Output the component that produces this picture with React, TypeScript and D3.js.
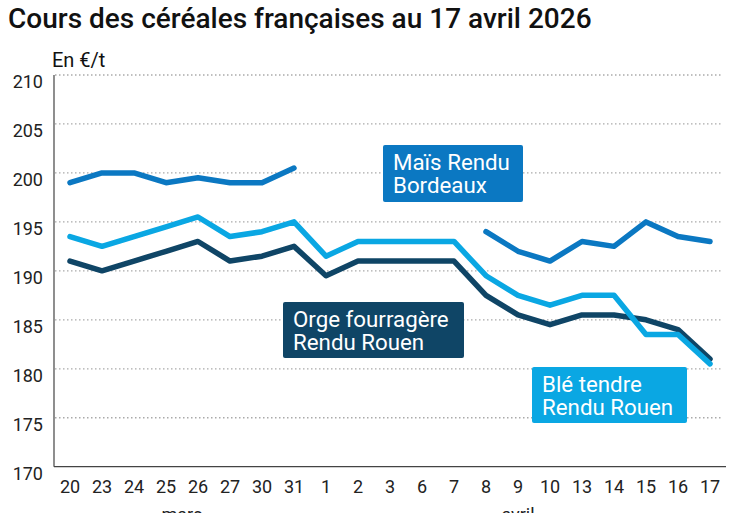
import React from "react";
import * as d3 from "d3";

const categories = ["20","23","24","25","26","27","30","31","1","2","3","6","7","8","9","10","13","14","15","16","17"];
const months = [
  { label: "mars", from: 0, to: 7 },
  { label: "avril", from: 8, to: 20 },
];
const mais: (number | null)[] = [199,200,200,199,199.5,199,199,200.5,null,null,null,null,null,194,192,191,193,192.5,195,193.5,193];
const ble: (number | null)[] = [193.5,192.5,193.5,194.5,195.5,193.5,194,195,191.5,193,193,193,193,189.5,187.5,186.5,187.5,187.5,183.5,183.5,180.5];
const orge: (number | null)[] = [191,190,191,192,193,191,191.5,192.5,189.5,191,191,191,191,187.5,185.5,184.5,185.5,185.5,185,184,181];
const yTicks = [170,175,180,185,190,195,200,205,210];

const W = 747, H = 513;
const left = 54, right = 726, top = 75, bottom = 466.7;
const FONT = "Roboto, 'Noto Sans', sans-serif";

export default function App() {
  const x = d3.scaleBand<string>().domain(categories).range([left, right]).padding(0);
  const y = d3.scaleLinear().domain([170, 210]).range([bottom, top]);
  const cx = (i: number) => (x(categories[i]) as number) + x.bandwidth() / 2;
  const line = d3
    .line<number | null>()
    .defined((d) => d !== null)
    .x((_, i) => cx(i))
    .y((d) => y(d as number));

  const series = [
    { data: orge, color: "#0f4566" },
    { data: ble, color: "#0aa7e3" },
    { data: mais, color: "#0b78c2" },
  ];

  const labels = [
    { lines: ["Maïs Rendu", "Bordeaux"], color: "#0b78c2", x: 383, y: 145, w: 140, h: 57 },
    { lines: ["Orge fourragère", "Rendu Rouen"], color: "#0f4566", x: 283, y: 302, w: 181, h: 56 },
    { lines: ["Blé tendre", "Rendu Rouen"], color: "#0aa7e3", x: 532, y: 367, w: 155, h: 56 },
  ];

  return (
    <svg width={W} height={H} style={{ position: "absolute", left: 0, top: 0, display: "block" }} fontFamily={FONT}>
      <rect width={W} height={H} fill="#fff" />
      <text x={8} y={28} fontSize={28} fontWeight={500} fill="#111">
        Cours des céréales françaises au 17 avril 2026
      </text>
      <text x={52} y={67} fontSize={20} fill="#111">En €/t</text>

      {yTicks.filter((t) => t !== 170).map((t) => (
        <line key={t} x1={left + 1} x2={723} y1={y(t)} y2={y(t)} stroke="#aaa" strokeWidth={1.3} strokeDasharray="1.5,2.5" />
      ))}
      {yTicks.map((t) => (
        <text key={"l" + t} x={43} y={y(t) + 13} fontSize={18} textAnchor="end" fill="#222">{t}</text>
      ))}

      <line x1={left} x2={left} y1={top} y2={bottom} stroke="#444" strokeWidth={1.2} />
      <line x1={left} x2={right} y1={bottom} y2={bottom} stroke="#444" strokeWidth={1.2} />

      {categories.map((c, i) => (
        <text key={c + i} x={cx(i)} y={493} fontSize={18} textAnchor="middle" fill="#222">{c}</text>
      ))}
      {months.map((m) => (
        <text key={m.label} x={(cx(m.from) + cx(m.to)) / 2} y={521} fontSize={18} textAnchor="middle" fill="#222">{m.label}</text>
      ))}

      {series.map((s, i) => (
        <path key={i} d={line(s.data) || ""} fill="none" stroke={s.color} strokeWidth={5.5} strokeLinejoin="round" strokeLinecap="round" />
      ))}

      {labels.map((l, i) => (
        <g key={i}>
          <rect x={l.x} y={l.y} width={l.w} height={l.h} rx={2} fill={l.color} />
          {l.lines.map((t, j) => (
            <text key={j} x={l.x + 10} y={l.y + 24.5 + j * 23.3} fontSize={22.3} fill="#fff">{t}</text>
          ))}
        </g>
      ))}
    </svg>
  );
}
